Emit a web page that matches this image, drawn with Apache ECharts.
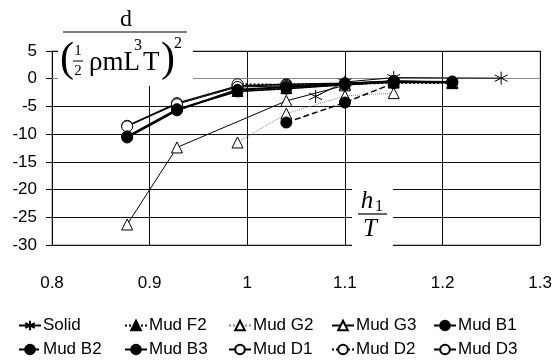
<!DOCTYPE html>
<html>
<head>
<meta charset="utf-8">
<script src="https://cdn.jsdelivr.net/npm/echarts@6/dist/echarts.min.js"></script>
<style>
  html, body { margin: 0; padding: 0; background: #fff; }
  #chart { width: 555px; height: 364px; }
</style>
</head>
<body>
<div id="chart"></div>
<script>
// values: [h1/T, d/(1/2 rho m L^3 T)^2]
const solid = [[1.07, -3.2], [1.1, -0.6], [1.15, 0.2], [1.26, 0.1]];
const mudF2 = [[0.99, -2.2], [1.04, -1.7], [1.1, -1.0], [1.15, -0.7], [1.21, -0.8]];
const mudG2 = [[0.99, -11.5], [1.04, -6.3], [1.1, -3.1], [1.15, -2.6]];
const mudG3 = [[0.877, -26.3], [0.928, -12.4], [1.04, -4.0], [1.1, -1.2], [1.15, -0.4], [1.21, -0.6]];
const mudB1 = [[0.877, -10.6], [0.928, -5.7], [0.99, -2.0], [1.04, -1.5], [1.1, -1.0], [1.15, -0.6], [1.21, -0.7]];
const mudB2 = [[1.04, -7.9], [1.1, -4.3], [1.15, -0.8]];
const mudB3 = [[0.877, -10.4], [0.928, -5.5], [0.99, -2.3], [1.04, -1.8], [1.1, -1.1], [1.15, -0.5], [1.21, -0.6]];
const mudD1 = [[0.877, -8.5], [0.928, -4.4], [0.99, -1.3], [1.04, -1.0], [1.1, -0.8], [1.15, -0.4]];
const mudD2 = [[0.99, -1.0], [1.04, -1.1], [1.1, -0.9], [1.15, -0.5]];
const mudD3 = [[0.877, -8.6], [0.928, -4.6], [0.99, -1.5], [1.04, -1.3], [1.1, -0.9], [1.15, -0.4], [1.21, -0.5]];

const legendRow1 = ["Solid", "Mud F2", "Mud G2", "Mud G3", "Mud B1"];
const legendRow2 = ["Mud B2", "Mud B3", "Mud D1", "Mud D2", "Mud D3"];

const STAR = "path://M5,0L5,10M0.67,2.5L9.33,7.5M0.67,7.5L9.33,2.5";

function mk(name, data, symbol, filled, line, width, color, size) {
  return {
    name: name,
    type: "line",
    data: data,
    symbol: symbol,
    symbolSize: size || 11,
    showSymbol: true,
    animation: false,
    itemStyle: {
      color: filled ? "#000" : "#fff",
      borderColor: "#000",
      borderWidth: 1,
    },
    lineStyle: {
      color: color || "#000",
      width: width,
      type: line,
    },
  };
}

const chart = echarts.init(document.getElementById("chart"));
const legendCols = [13, 119, 223, 326, 428];
const fontFam = "Liberation Sans, Arial, sans-serif";

const option = {
  backgroundColor: "#fff",
  animation: false,
  grid: {
    left: 52,
    right: 13,
    top: 51,
    bottom: 119,
    show: true,
    borderColor: "#888",
    borderWidth: 1,
  },
  xAxis: {
    type: "value",
    min: 0.8,
    max: 1.3,
    interval: 0.1,
    axisLine: { show: true, lineStyle: { color: "#888" } },
    axisTick: { show: false },
    axisLabel: {
      margin: 30,
      fontSize: 17,
      color: "#000",
      fontFamily: fontFam,
    },
    splitLine: { show: true, lineStyle: { color: "#111", width: 1 } },
  },
  yAxis: {
    type: "value",
    min: -30,
    max: 5,
    interval: 5,
    axisLine: { show: true, onZero: false, lineStyle: { color: "#000" } },
    axisTick: { show: true, length: 6, lineStyle: { color: "#000" } },
    axisLabel: {
      margin: 15,
      fontSize: 17,
      color: "#000",
      fontFamily: fontFam,
    },
    splitLine: { show: true, lineStyle: { color: "#111", width: 1 } },
  },
  legend: legendCols.map((x, i) => ({
    orient: "vertical",
    left: x,
    top: 312,
    itemGap: 7,
    itemWidth: 22,
    itemHeight: 12,
    data: [legendRow1[i], legendRow2[i]],
    textStyle: { fontSize: 17, color: "#000", fontFamily: fontFam, padding: [0, 0, 0, -3] },
  })),
  series: [
    mk("Solid", solid, STAR, true, "solid", 1, "#000", 13),
    mk("Mud F2", mudF2, "triangle", true, "dotted", 2),
    mk("Mud G2", mudG2, "triangle", false, "dotted", 1, "#888"),
    mk("Mud G3", mudG3, "triangle", false, "solid", 1),
    mk("Mud D1", mudD1, "circle", false, "solid", 1.5),
    mk("Mud D2", mudD2, "circle", false, "dotted", 2),
    mk("Mud D3", mudD3, "circle", false, "solid", 1),
    mk("Mud B1", mudB1, "circle", true, "solid", 2),
    mk("Mud B2", mudB2, "circle", true, "dashed", 1.5),
    mk("Mud B3", mudB3, "circle", true, "solid", 1.5),
  ],
  graphic: [
    // y-axis title box
    { type: "rect", shape: { x: 58, y: 0, width: 135, height: 86 }, style: { fill: "#fff" }, z: 50 },
    { type: "text", x: 126, y: 20, z: 51, style: { text: "d", font: "24px Liberation Serif", fill: "#000", align: "center", verticalAlign: "middle" } },
    { type: "line", shape: { x1: 63, y1: 32, x2: 187, y2: 32 }, style: { stroke: "#000", lineWidth: 1.2 }, z: 51 },
    { type: "text", x: 60, y: 60, z: 51, style: { text: "(", font: "42px Liberation Serif", fill: "#000", verticalAlign: "middle" } },
    { type: "text", x: 78, y: 51, z: 51, style: { text: "1", font: "15px Liberation Serif", fill: "#000", align: "center", verticalAlign: "middle" } },
    { type: "line", shape: { x1: 73, y1: 61, x2: 83, y2: 61 }, style: { stroke: "#000", lineWidth: 1 }, z: 51 },
    { type: "text", x: 78, y: 71, z: 51, style: { text: "2", font: "15px Liberation Serif", fill: "#000", align: "center", verticalAlign: "middle" } },
    { type: "text", x: 89, y: 63, z: 51, style: { text: "\u03c1mL", font: "27px Liberation Serif", fill: "#000", verticalAlign: "middle" } },
    { type: "text", x: 134, y: 46, z: 51, style: { text: "3", font: "16px Liberation Serif", fill: "#000", verticalAlign: "middle" } },
    { type: "text", x: 143, y: 63, z: 51, style: { text: "T", font: "27px Liberation Serif", fill: "#000", verticalAlign: "middle" } },
    { type: "text", x: 161, y: 60, z: 51, style: { text: ")", font: "42px Liberation Serif", fill: "#000", verticalAlign: "middle" } },
    { type: "text", x: 174, y: 44, z: 51, style: { text: "2", font: "16px Liberation Serif", fill: "#000", verticalAlign: "middle" } },
    // x-axis title box
    { type: "rect", shape: { x: 352, y: 183, width: 41, height: 64 }, style: { fill: "#fff" }, z: 50 },
    { type: "text", x: 367, y: 201, z: 51, style: { text: "h", font: "italic 25px Liberation Serif", fill: "#000", align: "center", verticalAlign: "middle" } },
    { type: "text", x: 375, y: 207, z: 51, style: { text: "1", font: "16px Liberation Serif", fill: "#000", verticalAlign: "middle" } },
    { type: "line", shape: { x1: 358, y1: 214, x2: 387, y2: 214 }, style: { stroke: "#000", lineWidth: 1.2 }, z: 51 },
    { type: "text", x: 370, y: 229, z: 51, style: { text: "T", font: "italic 25px Liberation Serif", fill: "#000", align: "center", verticalAlign: "middle" } },
  ],
};

chart.setOption(option);
</script>
</body>
</html>
